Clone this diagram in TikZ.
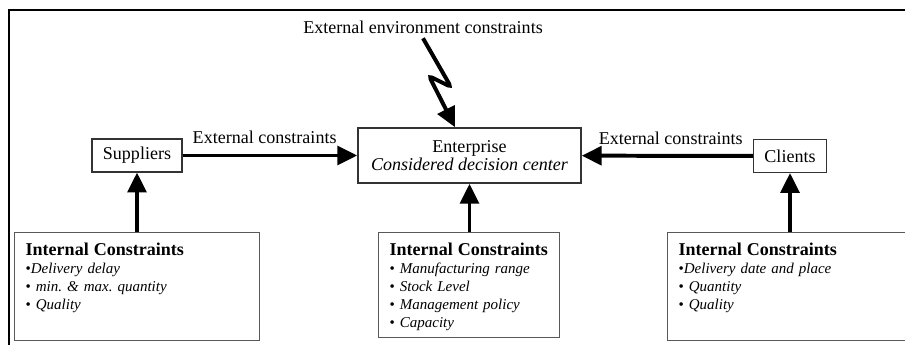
\documentclass[tikz,border=0pt]{standalone}
\usepackage{fontspec}
\setmainfont{Liberation Serif}
\usetikzlibrary{arrows.meta}
\newcommand{\bigfont}{\fontsize{15.4pt}{15.4pt}\selectfont}
\newcommand{\itemfont}{\fontsize{12.8pt}{15.4pt}\selectfont}
\frenchspacing

\begin{document}
\begin{tikzpicture}[x=0.03cm, y=-0.03cm,
    actor/.style={draw=black!80, line width=0.9pt, font=\bigfont, inner sep=0pt, minimum height=0.99cm},
    decbox/.style={draw=black!80, line width=1.3pt, font=\bigfont, align=center, inner sep=0pt},
    intbox/.style={draw=black!65, line width=1.1pt, anchor=north west, align=left, font=\itemfont,
                   inner xsep=0.33cm, inner ysep=9.1pt, text height=10.5pt},
    bigarrow/.style={line width=3.4pt, -{Triangle[length=17pt, width=16pt]}},
    lbl/.style={font=\bigfont, inner sep=0pt}]
    % page size and outer frame
    \path[use as bounding box, clip] (0,0) rectangle (905,345);
    \draw[line width=0.9pt] (9,345) -- (9,10) -- (905,10);

    % decision centers
    \node[actor, minimum width=2.7cm] (sup) at (137,155.5) {Suppliers};
    \node[decbox, minimum width=6.69cm, minimum height=1.65cm] (ent) at (469.5,155.5)
        {Enterprise\\\textit{Considered decision center}};
    \node[actor, minimum width=2.2cm] (cli) at (790,156) {Clients};

    % internal constraints
    \node[intbox, text width=6.69cm, text depth=63.5pt] (isup) at (14,232)
        {{\bigfont\bfseries Internal Constraints}\\
         •\textit{Delivery delay}\\
         • \textit{min. \& max. quantity}\\
         • \textit{Quality}};
    \node[intbox, text width=4.77cm, text depth=60.9pt] (ient) at (378,232)
        {{\bigfont\bfseries Internal Constraints}\\
         • \textit{Manufacturing range}\\
         • \textit{Stock Level}\\
         • \textit{Management policy}\\
         • \textit{Capacity}};
    \node[intbox, text width=6.69cm, text depth=63.5pt] (icli) at (667,232)
        {{\bigfont\bfseries Internal Constraints}\\
         •\textit{Delivery date and place}\\
         • \textit{Quantity}\\
         • \textit{Quality}};

    % external constraints
    \draw[bigarrow] (sup) -- node[lbl, above=8pt, pos=.47] {External constraints} (ent);
    \draw[bigarrow] (cli) -- node[lbl, above=8pt, pos=.48] {External constraints} (ent);

    % internal constraints arrows
    \draw[bigarrow] (sup.south |- isup.north) -- (sup.south);
    \draw[bigarrow] (ent.south |- ient.north) -- (ent.south);
    \draw[bigarrow] (cli.south |- icli.north) -- (cli.south);

    % environment
    \node[lbl] (envlbl) at (423,27) {External environment constraints};
    \coordinate (hit) at (455,0);
    \draw[line width=3.4pt, rounded corners=3pt, -{Triangle[length=17pt, width=16pt]}]
        ([yshift=-4pt]envlbl.south) -- (451,87) -- (429,76) -- (ent.north -| hit);
\end{tikzpicture}
\end{document}
